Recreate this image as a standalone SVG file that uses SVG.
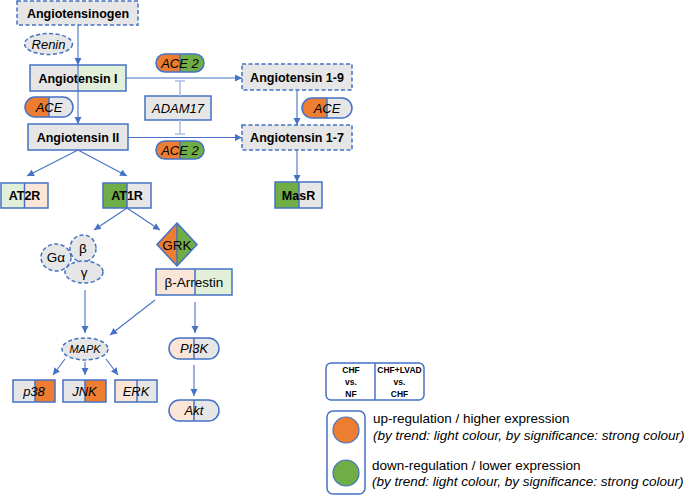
<svg xmlns="http://www.w3.org/2000/svg" width="685" height="495" viewBox="0 0 685 495">
<defs>
<marker id="arr" markerWidth="8" markerHeight="8" refX="7" refY="3.5" orient="auto" markerUnits="userSpaceOnUse">
<path d="M0,0 L7,3.5 L0,7 Z" fill="#4472c4"/>
</marker>
</defs>
<style>
.box{stroke:#4472c4;stroke-width:1.5}
.dash{stroke:#4472c4;stroke-width:1.5;stroke-dasharray:4 2.5;fill:#e7e6e6}
.gray{fill:#e7e6e6}
.lg{fill:#e2f0d9}
.lp{fill:#fbe5d6}
.or{fill:#ed7d31}
.gr{fill:#70ad47}
.nf{fill:none}
.div{stroke:#4472c4;stroke-width:1.5}
.b{font-family:"Liberation Sans",Arial,sans-serif;font-weight:bold;font-size:12.5px;text-anchor:middle;fill:#000}
.i{font-family:"Liberation Sans",Arial,sans-serif;font-style:italic;font-size:13px;text-anchor:middle;fill:#000}
.r{font-family:"Liberation Sans",Arial,sans-serif;font-size:13.5px;text-anchor:middle;fill:#000}
.lt{font-family:"Liberation Sans",Arial,sans-serif;font-size:13.5px;fill:#000}
.li{font-family:"Liberation Sans",Arial,sans-serif;font-size:13.5px;font-style:italic;fill:#000}
.tb{font-family:"Liberation Sans",Arial,sans-serif;font-weight:bold;font-size:8.5px;text-anchor:middle;fill:#000}
.c{stroke:#4472c4;stroke-width:1.1;fill:none}
.ca{stroke:#4472c4;stroke-width:1.1;fill:none;marker-end:url(#arr)}
.inh{stroke:#a9bce4;stroke-width:1.5;fill:none}
</style>
<rect width="685" height="495" fill="#fff"/>

<g id="angiotensinogen">
<rect class="dash" x="17" y="1" width="121" height="24"/>
<text class="b" x="78" y="17.5">Angiotensinogen</text>
</g>
<g id="renin">
<ellipse cx="48.5" cy="44" rx="24" ry="10.5" class="dash"/>
<text class="i" x="48.5" y="48.5">Renin</text>
</g>
<g id="ang1">
<rect class="gray" x="30" y="65" width="48" height="26"/>
<rect class="lg" x="78" y="65" width="48" height="26"/>
<rect class="box nf" x="30" y="65" width="96" height="26"/>
<text class="b" x="78" y="82.5">Angiotensin I</text>
</g>
<g id="ace-left">
<path class="or" d="M49,97 H35 A10,10 0 0 0 35,117 H49 Z"/>
<path class="gray" d="M49,97 H63 A10,10 0 0 1 63,117 H49 Z"/>
<rect class="box nf" x="25" y="97" width="48" height="20" rx="10"/>
<line class="div" x1="49" y1="97" x2="49" y2="117"/>
<text class="i" x="49" y="111.5">ACE</text>
</g>
<g id="ang2">
<rect class="box gray" x="28" y="124" width="100" height="26"/>
<text class="b" x="78" y="141.5">Angiotensin II</text>
</g>
<g id="ace2-top">
<path class="or" d="M180,54 H165 A9,9 0 0 0 165,72 H180 Z"/>
<path class="gr" d="M180,54 H195 A9,9 0 0 1 195,72 H180 Z"/>
<rect class="box nf" x="156" y="54" width="48" height="18" rx="9"/>
<line class="div" x1="180" y1="54" x2="180" y2="72"/>
<text class="i" x="180" y="67.5">ACE 2</text>
</g>
<g id="adam17">
<rect class="box gray" x="145" y="96" width="66" height="24"/>
<text class="i" x="178" y="112.5">ADAM17</text>
</g>
<g id="ace2-bottom">
<path class="or" d="M180,141 H165 A9,9 0 0 0 165,159 H180 Z"/>
<path class="gr" d="M180,141 H195 A9,9 0 0 1 195,159 H180 Z"/>
<rect class="box nf" x="156" y="141" width="48" height="18" rx="9"/>
<line class="div" x1="180" y1="141" x2="180" y2="159"/>
<text class="i" x="180" y="154.5">ACE 2</text>
</g>
<g id="ang19">
<rect class="dash" x="242" y="64" width="110" height="26"/>
<text class="b" x="297" y="81.5">Angiotensin 1-9</text>
</g>
<g id="ace-right">
<path class="or" d="M327,98 H312 A10,10 0 0 0 312,118 H327 Z"/>
<path class="gray" d="M327,98 H342 A10,10 0 0 1 342,118 H327 Z"/>
<rect class="box nf" x="302" y="98" width="50" height="20" rx="10"/>
<line class="div" x1="327" y1="98" x2="327" y2="118"/>
<text class="i" x="327" y="112.5">ACE</text>
</g>
<g id="ang17">
<rect class="dash" x="242" y="125" width="110" height="25"/>
<text class="b" x="297" y="142">Angiotensin 1-7</text>
</g>
<g id="at2r">
<rect class="lg" x="1" y="183" width="23.5" height="25"/>
<rect class="lp" x="24.5" y="183" width="23.5" height="25"/>
<rect class="box nf" x="1" y="183" width="47" height="25"/>
<line class="div" x1="24.5" y1="183" x2="24.5" y2="208"/>
<text class="b" x="24.5" y="200">AT2R</text>
</g>
<g id="at1r">
<rect class="gr" x="103" y="183" width="24" height="25"/>
<rect class="gray" x="127" y="183" width="24" height="25"/>
<rect class="box nf" x="103" y="183" width="48" height="25"/>
<line class="div" x1="127" y1="183" x2="127" y2="208"/>
<text class="b" x="127" y="200">AT1R</text>
</g>
<g id="masr">
<rect class="gr" x="275" y="182" width="24" height="26"/>
<rect class="gray" x="299" y="182" width="23" height="26"/>
<rect class="box nf" x="275" y="182" width="47" height="26"/>
<line class="div" x1="299" y1="182" x2="299" y2="208"/>
<text class="b" x="298.5" y="199.5">MasR</text>
</g>
<g id="g-protein">
<ellipse class="dash" cx="56" cy="257.5" rx="15" ry="13.5"/>
<ellipse class="dash" cx="83" cy="248.5" rx="13" ry="13.5"/>
<ellipse class="dash" cx="84" cy="272" rx="19" ry="11"/>
<text class="r" x="56" y="262">Gα</text>
<text class="r" x="83" y="253">β</text>
<text class="r" x="84" y="277">γ</text>
</g>
<g id="grk">
<polygon class="or" points="177,223 157,244.5 177,266"/>
<polygon class="gr" points="177,223 197,244.5 177,266"/>
<polygon class="box nf" points="177,223 197,244.5 177,266 157,244.5"/>
<line class="div" x1="177" y1="223" x2="177" y2="266"/>
<text class="r" x="177" y="249.5">GRK</text>
</g>
<g id="b-arrestin">
<rect class="lp" x="156" y="269" width="39" height="26"/>
<rect class="lg" x="195" y="269" width="37" height="26"/>
<rect class="box nf" x="156" y="269" width="76" height="26"/>
<line class="div" x1="195" y1="269" x2="195" y2="295"/>
<text class="r" x="194" y="287">β-Arrestin</text>
</g>
<g id="mapk">
<ellipse class="dash" cx="85" cy="349" rx="23" ry="11"/>
<text class="i" x="85" y="353" style="font-size:11px">MAPK</text>
</g>
<g id="pi3k">
<path class="lp" d="M194,338 H179.5 A10.5,10.5 0 0 0 179.5,359 H194 Z"/>
<path class="gray" d="M194,338 H208.5 A10.5,10.5 0 0 1 208.5,359 H194 Z"/>
<rect class="box nf" x="169" y="338" width="50" height="21" rx="10.5"/>
<line class="div" x1="194" y1="338" x2="194" y2="359"/>
<text class="i" x="194" y="353">PI3K</text>
</g>
<g id="akt">
<path class="lp" d="M194,400 H179.5 A10.5,10.5 0 0 0 179.5,421 H194 Z"/>
<path class="gray" d="M194,400 H208.5 A10.5,10.5 0 0 1 208.5,421 H194 Z"/>
<rect class="box nf" x="169" y="400" width="50" height="21" rx="10.5"/>
<line class="div" x1="194" y1="400" x2="194" y2="421"/>
<text class="i" x="194" y="415">Akt</text>
</g>
<g id="p38">
<rect class="gray" x="13" y="380" width="22" height="22"/>
<rect class="or" x="35" y="380" width="20" height="22"/>
<rect class="box nf" x="13" y="380" width="42" height="22"/>
<line class="div" x1="35" y1="380" x2="35" y2="402"/>
<text class="i" x="34" y="395.5">p38</text>
</g>
<g id="jnk">
<rect class="gray" x="63" y="380" width="22" height="22"/>
<rect class="or" x="85" y="380" width="21" height="22"/>
<rect class="box nf" x="63" y="380" width="43" height="22"/>
<line class="div" x1="85" y1="380" x2="85" y2="402"/>
<text class="i" x="84.5" y="395.5">JNK</text>
</g>
<g id="erk">
<rect class="lp" x="115" y="380" width="22" height="22"/>
<rect class="gray" x="137" y="380" width="20" height="22"/>
<rect class="box nf" x="115" y="380" width="42" height="22"/>
<line class="div" x1="137" y1="380" x2="137" y2="402"/>
<text class="i" x="136" y="395.5">ERK</text>
</g>

<g id="connectors">
<line class="ca" x1="78" y1="25" x2="78" y2="65"/>
<line class="ca" x1="78" y1="65" x2="78" y2="124"/>
<line class="ca" x1="126" y1="78" x2="242" y2="78"/>
<line class="ca" x1="128" y1="137.5" x2="242" y2="137.5"/>
<line class="ca" x1="297" y1="90" x2="297" y2="125"/>
<line class="ca" x1="297" y1="150" x2="297" y2="182"/>
<line class="ca" x1="78" y1="150" x2="27" y2="176"/>
<line class="ca" x1="78" y1="150" x2="127" y2="176"/>
<line class="ca" x1="127" y1="208" x2="94" y2="230"/>
<line class="ca" x1="127" y1="208" x2="160" y2="230"/>
<line class="inh" x1="180" y1="96" x2="180" y2="81"/>
<line class="inh" x1="175" y1="81" x2="185" y2="81"/>
<line class="inh" x1="180" y1="120" x2="180" y2="134"/>
<line class="inh" x1="175" y1="134" x2="185" y2="134"/>
<line class="ca" x1="85" y1="290" x2="85" y2="333"/>
<line class="ca" x1="155" y1="300" x2="110" y2="335"/>
<line class="ca" x1="195" y1="302" x2="195" y2="333"/>
<line class="ca" x1="194" y1="365" x2="194" y2="396"/>
<line class="ca" x1="65" y1="359" x2="53" y2="375"/>
<line class="ca" x1="85" y1="362" x2="85" y2="375"/>
<line class="ca" x1="106" y1="359" x2="118" y2="375"/>
</g>

<g id="legend-table">
<rect x="326" y="363" width="98" height="37" rx="5" fill="#fff" stroke="#4472c4" stroke-width="1.5"/>
<line class="div" x1="375" y1="363" x2="375" y2="400"/>
<text class="tb" x="351" y="373">CHF</text>
<text class="tb" x="351" y="385">vs.</text>
<text class="tb" x="351" y="397">NF</text>
<text class="tb" x="399.5" y="373">CHF+LVAD</text>
<text class="tb" x="399.5" y="385">vs.</text>
<text class="tb" x="399.5" y="397">CHF</text>
</g>
<g id="legend-colours">
<rect x="327" y="411" width="38" height="83" rx="6" fill="#fff" stroke="#4472c4" stroke-width="1.5"/>
<circle cx="346" cy="430" r="13" fill="#ed7d31" stroke="#4472c4" stroke-width="1.2"/>
<circle cx="346" cy="473" r="13" fill="#70ad47" stroke="#4472c4" stroke-width="1.2"/>
<text class="lt" x="373" y="423">up-regulation / higher expression</text>
<text class="li" x="373" y="440">(by trend: light colour, by significance: strong colour)</text>
<text class="lt" x="372" y="470">down-regulation / lower expression</text>
<text class="li" x="372" y="486">(by trend: light colour, by significance: strong colour)</text>
</g>
</svg>
